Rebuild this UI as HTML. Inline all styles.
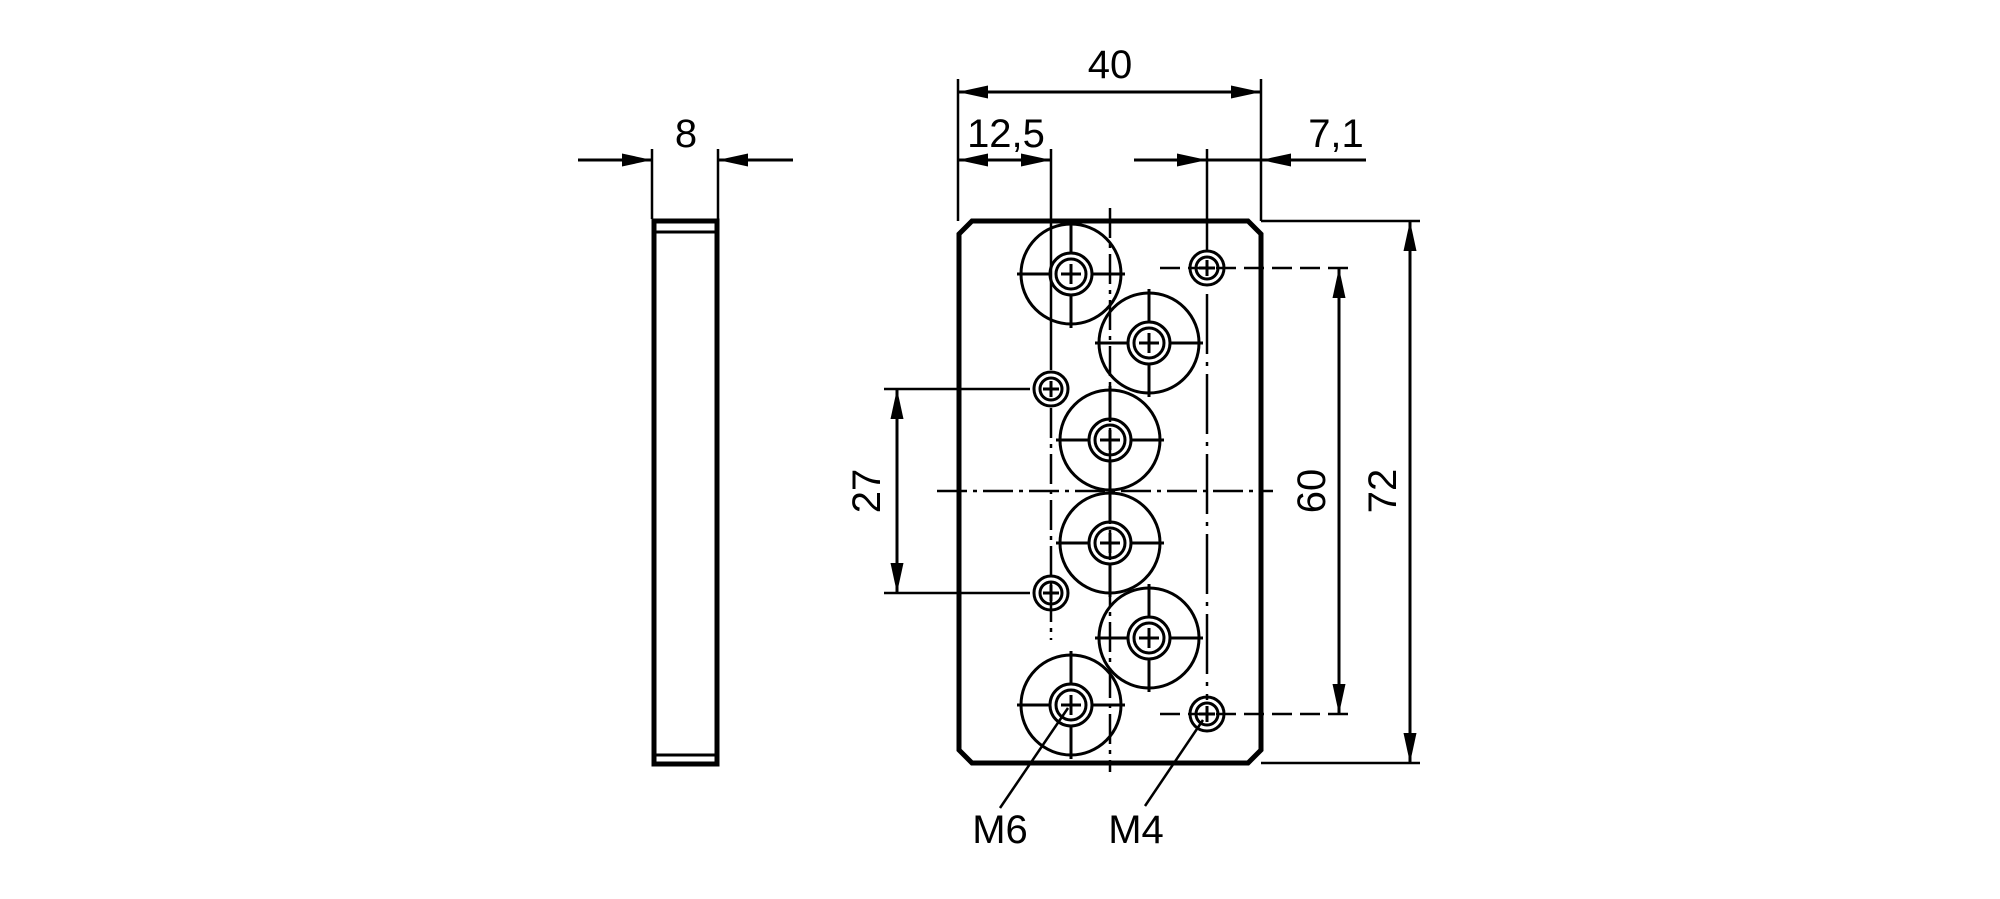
<!DOCTYPE html>
<html><head><meta charset="utf-8"><style>html,body{margin:0;padding:0;background:#fff}svg{display:block}</style></head><body>
<svg width="2000" height="899" viewBox="0 0 2000 899" xmlns="http://www.w3.org/2000/svg" font-family="Liberation Sans, sans-serif">
<defs>
<marker id="a" viewBox="0 0 10 10" refX="10" refY="5" markerWidth="30" markerHeight="13" markerUnits="userSpaceOnUse" orient="auto-start-reverse" preserveAspectRatio="none"><path d="M0,0L10,5L0,10z" fill="#000"/></marker>
<g id="big">
<circle r="50" fill="none" stroke="#000" stroke-width="3"/>
<circle r="21" fill="none" stroke="#000" stroke-width="3"/>
<circle r="15" fill="none" stroke="#000" stroke-width="3"/>
<line x1="-54" y1="0" x2="-22" y2="0" stroke="#000" stroke-width="3"/><line x1="22" y1="0" x2="54" y2="0" stroke="#000" stroke-width="3"/>
<line x1="0" y1="-54" x2="0" y2="-22" stroke="#000" stroke-width="3"/><line x1="0" y1="22" x2="0" y2="54" stroke="#000" stroke-width="3"/>
<line x1="-10" y1="0" x2="10" y2="0" stroke="#000" stroke-width="3"/><line x1="0" y1="-10" x2="0" y2="10" stroke="#000" stroke-width="3"/>
</g>
<g id="sm">
<circle r="17" fill="none" stroke="#000" stroke-width="3"/>
<circle r="11" fill="none" stroke="#000" stroke-width="3"/>
<line x1="-8" y1="0" x2="8" y2="0" stroke="#000" stroke-width="3"/><line x1="0" y1="-8" x2="0" y2="8" stroke="#000" stroke-width="3"/>
</g>
</defs>
<g stroke="#000" fill="none">
<rect x="654" y="221" width="63" height="543" stroke-width="5"/>
<line x1="654" y1="232" x2="717" y2="232" stroke-width="3"/>
<line x1="654" y1="755" x2="717" y2="755" stroke-width="3"/>
<line x1="652" y1="149" x2="652" y2="219" stroke-width="2.5"/>
<line x1="718" y1="149" x2="718" y2="219" stroke-width="2.5"/>
<line x1="578" y1="160" x2="652" y2="160" stroke-width="3" marker-end="url(#a)"/>
<line x1="793" y1="160" x2="718" y2="160" stroke-width="3" marker-end="url(#a)"/>
<path d="M972,221 L1248,221 L1261,234 L1261,750 L1248,763 L972,763 L959,750 L959,234 Z" stroke-width="5"/>
<line x1="958" y1="79" x2="958" y2="221" stroke-width="2.5"/>
<line x1="1261" y1="79" x2="1261" y2="221" stroke-width="2.5"/>
<line x1="958" y1="92" x2="1261" y2="92" stroke-width="3" marker-start="url(#a)" marker-end="url(#a)"/>
<line x1="958" y1="160" x2="1051" y2="160" stroke-width="3" marker-start="url(#a)" marker-end="url(#a)"/>
<line x1="1134" y1="160" x2="1207" y2="160" stroke-width="3" marker-end="url(#a)"/>
<line x1="1366" y1="160" x2="1261" y2="160" stroke-width="3" marker-end="url(#a)"/>
<line x1="1207" y1="160" x2="1261" y2="160" stroke-width="3"/>
<line x1="1051" y1="149" x2="1051" y2="370" stroke-width="2.5"/>
<line x1="1051" y1="408" x2="1051" y2="640" stroke-width="2.5" stroke-dasharray="30,6,4,6"/>
<line x1="1110" y1="208" x2="1110" y2="772" stroke-width="2.5" stroke-dasharray="30,6,4,6"/>
<line x1="1207" y1="149" x2="1207" y2="250" stroke-width="2.5"/>
<line x1="1207" y1="294" x2="1207" y2="700" stroke-width="2.5" stroke-dasharray="60,8,4,8"/>
<line x1="937" y1="491" x2="1273" y2="491" stroke-width="2.5" stroke-dasharray="30,6,4,6"/>
<line x1="1160" y1="268" x2="1350" y2="268" stroke-width="2.5" stroke-dasharray="20,8"/>
<line x1="1160" y1="714" x2="1350" y2="714" stroke-width="2.5" stroke-dasharray="20,8"/>
<line x1="1261" y1="221" x2="1420" y2="221" stroke-width="2.5"/>
<line x1="1261" y1="763" x2="1420" y2="763" stroke-width="2.5"/>
<line x1="884" y1="389" x2="1030" y2="389" stroke-width="2.5"/>
<line x1="884" y1="593" x2="1030" y2="593" stroke-width="2.5"/>
<line x1="897" y1="389" x2="897" y2="593" stroke-width="3" marker-start="url(#a)" marker-end="url(#a)"/>
<line x1="1339" y1="268" x2="1339" y2="714" stroke-width="3" marker-start="url(#a)" marker-end="url(#a)"/>
<line x1="1410" y1="221" x2="1410" y2="763" stroke-width="3" marker-start="url(#a)" marker-end="url(#a)"/>
<line x1="1068" y1="708" x2="1000" y2="808" stroke-width="2.5"/>
<line x1="1203" y1="720" x2="1145" y2="806" stroke-width="2.5"/>
</g>
<g fill="#fff">
<use href="#big" x="1071" y="274"/>
<use href="#big" x="1149" y="343"/>
<use href="#big" x="1110" y="440"/>
<use href="#big" x="1110" y="543"/>
<use href="#big" x="1149" y="638"/>
<use href="#big" x="1071" y="705"/>
<use href="#sm" x="1207" y="268"/>
<use href="#sm" x="1051" y="389"/>
<use href="#sm" x="1051" y="593"/>
<use href="#sm" x="1207" y="714"/>
</g>
<g font-size="40" fill="#000">
<text x="686" y="147" text-anchor="middle">8</text>
<text x="1110" y="78" text-anchor="middle">40</text>
<text x="1006" y="147" text-anchor="middle">12,5</text>
<text x="1336" y="147" text-anchor="middle">7,1</text>
<text x="1000" y="843" text-anchor="middle">M6</text>
<text x="1136" y="843" text-anchor="middle">M4</text>
<text transform="translate(880,491) rotate(-90)" text-anchor="middle">27</text>
<text transform="translate(1325,491) rotate(-90)" text-anchor="middle">60</text>
<text transform="translate(1396,491) rotate(-90)" text-anchor="middle">72</text>
</g>
</svg>
</body></html>
